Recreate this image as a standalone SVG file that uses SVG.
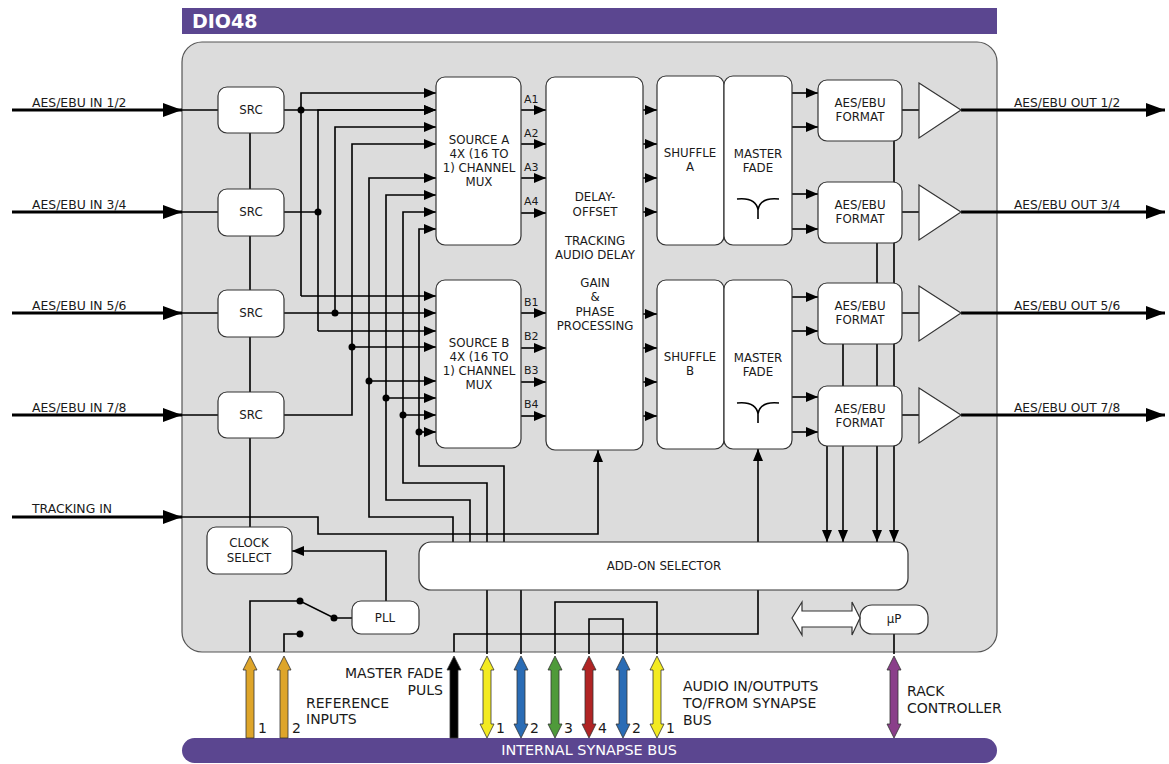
<svg xmlns="http://www.w3.org/2000/svg" xmlns:xlink="http://www.w3.org/1999/xlink" width="1169" height="764" viewBox="0 0 1169 764">
<style>
.box{fill:#fff;stroke:#333;stroke-width:1.2}
.w{fill:none;stroke:#000;stroke-width:1.6}
.wa{fill:none;stroke:#000;stroke-width:1.6;marker-end:url(#ah)}
.th{fill:none;stroke:#000;stroke-width:3;marker-end:url(#big)}
.t{font-family:"DejaVu Sans",Verdana,sans-serif;font-size:11.8px;fill:#1a1a1a}
.m{text-anchor:middle}
.s{font-size:11px}
.l{font-size:14px}
.in{font-size:12.4px}
.out{font-size:12.2px}
.bus{font-size:14.4px;fill:#fff}
.dot{fill:#000}
</style>
<defs>
<marker id="ah" markerUnits="userSpaceOnUse" viewBox="0 0 12 10" markerWidth="12" markerHeight="10" refX="12" refY="5" orient="auto"><path d="M0,0 L12,5 L0,10z" fill="#000"/></marker>
<marker id="big" markerUnits="userSpaceOnUse" viewBox="0 0 19 14" markerWidth="19" markerHeight="14" refX="19" refY="7" orient="auto"><path d="M0,0 L19,7 L0,14z" fill="#000"/></marker>
<path id="da" d="M0,0 L7,14 L4,14 L4,68 L7,68 L0,82 L-7,68 L-4,68 L-4,14 L-7,14 Z" stroke="#333" stroke-width="0.8"/>
<path id="ua" d="M0,0 L7,14 L4,14 L4,82 L-4,82 L-4,14 L-7,14 Z" stroke="#333" stroke-width="0.8"/>
<path id="fade" d="M-21,1 Q-2,-1 0,12 M21,1 Q2,-1 0,12 M0,10 V21" fill="none" stroke="#000" stroke-width="1.6"/>
</defs>

<g id="frame">
<rect x="182" y="8" width="815" height="26" fill="#5b4690"/>
<text x="192" y="28" font-family="DejaVu Sans,Verdana,sans-serif" font-weight="bold" font-size="19" fill="#fff">DIO48</text>
<rect x="182" y="42" width="815" height="610" rx="20" fill="#dcdcdc" stroke="#555" stroke-width="1.2"/>
</g>

<g id="connectors">
<path class="th" d="M12,110 H182"/>
<path class="th" d="M12,212 H182"/>
<path class="th" d="M12,313 H182"/>
<path class="th" d="M12,415 H182"/>
<path class="th" d="M12,517 H182"/>
<path class="w" d="M182,110 H218 M182,212 H218 M182,313 H218 M182,415 H218"/>
<path class="w" d="M250,133 V189 M250,236 V290 M250,337 V392 M250,438 V527"/>
<path class="wa" d="M182,517 H318 V534 H598 V450"/>
<path class="wa" d="M284,110 H436"/>
<path class="w" d="M284,212 H318"/>
<path class="wa" d="M284,313 H436"/>
<path class="wa" d="M301,296 V93 H436"/>
<path class="wa" d="M301,296 H436"/>
<path class="wa" d="M318,331 V110 H436"/>
<path class="wa" d="M318,331 H436"/>
<path class="wa" d="M335,313 V127 H436"/>
<path class="wa" d="M284,415 H352 V144 H436"/>
<path class="wa" d="M352,347 H436"/>
<path class="wa" d="M453,542 V517 H369 V178 H436"/>
<path class="wa" d="M369,381 H436"/>
<path class="wa" d="M470,542 V500 H386 V195 H436"/>
<path class="wa" d="M386,398 H436"/>
<path class="wa" d="M487,542 V483 H403 V212 H436"/>
<path class="wa" d="M403,415 H436"/>
<path class="wa" d="M504,542 V466 H419 V229 H436"/>
<path class="wa" d="M419,432 H436"/>
<circle class="dot" cx="301" cy="110" r="3.5"/>
<circle class="dot" cx="318" cy="212" r="3.5"/>
<circle class="dot" cx="335" cy="313" r="3.5"/>
<circle class="dot" cx="352" cy="347" r="3.5"/>
<circle class="dot" cx="369" cy="381" r="3.5"/>
<circle class="dot" cx="386" cy="398" r="3.5"/>
<circle class="dot" cx="403" cy="415" r="3.5"/>
<circle class="dot" cx="419" cy="432" r="3.5"/>
<path class="wa" d="M521,110 H546"/>
<path class="wa" d="M521,144 H546"/>
<path class="wa" d="M521,178 H546"/>
<path class="wa" d="M521,213 H546"/>
<path class="wa" d="M521,313 H546"/>
<path class="wa" d="M521,348 H546"/>
<path class="wa" d="M521,382 H546"/>
<path class="wa" d="M521,416 H546"/>
<path class="wa" d="M643,110 H657"/>
<path class="wa" d="M643,144 H657"/>
<path class="wa" d="M643,178 H657"/>
<path class="wa" d="M643,212 H657"/>
<path class="wa" d="M643,314 H657"/>
<path class="wa" d="M643,348 H657"/>
<path class="wa" d="M643,382 H657"/>
<path class="wa" d="M643,416 H657"/>
<path class="wa" d="M792,93 H818"/>
<path class="wa" d="M792,127 H818"/>
<path class="wa" d="M792,194 H818"/>
<path class="wa" d="M792,229 H818"/>
<path class="wa" d="M792,297 H818"/>
<path class="wa" d="M792,331 H818"/>
<path class="wa" d="M792,397 H818"/>
<path class="wa" d="M792,432 H818"/>
<path class="wa" d="M894,141 V542"/>
<path class="wa" d="M877,243 V542"/>
<path class="wa" d="M843,344 V542"/>
<path class="wa" d="M827,446 V542"/>
<path class="w" d="M902,110 H919 M902,212 H919 M902,313 H919 M902,415 H919"/>
<path class="th" d="M961,110 H1165"/>
<path class="th" d="M961,212 H1165"/>
<path class="th" d="M961,313 H1165"/>
<path class="th" d="M961,415 H1165"/>
<path class="wa" d="M454,652 V634 H758 V449"/>
<path class="wa" d="M386,601 V551 H292"/>
<path class="w" d="M250,652 V601 H300 L334,618 H352 M300,634 H284 V652"/>
<circle class="dot" cx="300" cy="601" r="3.5"/>
<circle class="dot" cx="334" cy="618" r="3.5"/>
<circle class="dot" cx="300" cy="634" r="3.5"/>
<path class="w" d="M487,590 V654 M521,590 V654 M555,654 V602 H657 V654 M589,654 V619 H623 V654 M894,634 V654"/>
</g>

<g id="src1"><rect class="box" x="218" y="87" width="66" height="46" rx="9"/><text class="t m" x="251" y="114">SRC</text></g>
<g id="src2"><rect class="box" x="218" y="189" width="66" height="47" rx="9"/><text class="t m" x="251" y="216">SRC</text></g>
<g id="src3"><rect class="box" x="218" y="290" width="66" height="47" rx="9"/><text class="t m" x="251" y="317">SRC</text></g>
<g id="src4"><rect class="box" x="218" y="392" width="66" height="46" rx="9"/><text class="t m" x="251" y="419">SRC</text></g>
<g id="clock-select"><rect class="box" x="207" y="527" width="85" height="47" rx="9"/><text class="t m" x="249" y="547">CLOCK</text><text class="t m" x="249" y="562">SELECT</text></g>
<g id="pll"><rect class="box" x="352" y="601" width="67" height="33" rx="9"/><text class="t m" x="385" y="622">PLL</text></g>

<g id="source-a"><rect class="box" x="436" y="77" width="85" height="168" rx="9"/>
<text class="t m" x="479" y="144">SOURCE A</text><text class="t m" x="479" y="158">4X (16 TO</text><text class="t m" x="479" y="172">1) CHANNEL</text><text class="t m" x="479" y="186">MUX</text></g>
<g id="source-b"><rect class="box" x="436" y="280" width="85" height="168" rx="9"/>
<text class="t m" x="479" y="347">SOURCE B</text><text class="t m" x="479" y="361">4X (16 TO</text><text class="t m" x="479" y="375">1) CHANNEL</text><text class="t m" x="479" y="389">MUX</text></g>
<g id="mux-labels">
<text class="t s" x="524" y="103">A1</text><text class="t s" x="524" y="137">A2</text><text class="t s" x="524" y="171">A3</text><text class="t s" x="524" y="205">A4</text>
<text class="t s" x="524" y="306">B1</text><text class="t s" x="524" y="340">B2</text><text class="t s" x="524" y="374">B3</text><text class="t s" x="524" y="408">B4</text>
</g>

<g id="delay"><rect class="box" x="546" y="77" width="97" height="373" rx="9"/>
<text class="t m" x="595" y="201">DELAY-</text><text class="t m" x="595" y="216">OFFSET</text>
<text class="t m" x="595" y="245">TRACKING</text><text class="t m" x="595" y="259">AUDIO DELAY</text>
<text class="t m" x="595" y="287">GAIN</text><text class="t m" x="595" y="301">&amp;</text><text class="t m" x="595" y="316">PHASE</text><text class="t m" x="595" y="330">PROCESSING</text></g>

<g id="shuffle-a"><rect class="box" x="657" y="76" width="67" height="169" rx="9"/><text class="t m" x="690" y="157">SHUFFLE</text><text class="t m" x="690" y="171">A</text></g>
<g id="master-fade-a"><rect class="box" x="724" y="76" width="68" height="169" rx="9"/><text class="t m" x="758" y="158">MASTER</text><text class="t m" x="758" y="172">FADE</text><use href="#fade" x="758" y="198"/></g>
<g id="shuffle-b"><rect class="box" x="657" y="280" width="67" height="169" rx="9"/><text class="t m" x="690" y="361">SHUFFLE</text><text class="t m" x="690" y="375">B</text></g>
<g id="master-fade-b"><rect class="box" x="724" y="280" width="68" height="169" rx="9"/><text class="t m" x="758" y="362">MASTER</text><text class="t m" x="758" y="376">FADE</text><use href="#fade" x="758" y="402"/></g>

<g id="format1"><rect class="box" x="818" y="80" width="84" height="61" rx="9"/><text class="t m" x="860" y="107">AES/EBU</text><text class="t m" x="860" y="121">FORMAT</text></g>
<g id="format2"><rect class="box" x="818" y="182" width="84" height="61" rx="9"/><text class="t m" x="860" y="209">AES/EBU</text><text class="t m" x="860" y="223">FORMAT</text></g>
<g id="format3"><rect class="box" x="818" y="283" width="84" height="61" rx="9"/><text class="t m" x="860" y="310">AES/EBU</text><text class="t m" x="860" y="324">FORMAT</text></g>
<g id="format4"><rect class="box" x="818" y="386" width="84" height="60" rx="9"/><text class="t m" x="860" y="413">AES/EBU</text><text class="t m" x="860" y="427">FORMAT</text></g>

<g id="buffer1"><polygon class="box" points="919,83 961,110 919,138"/></g>
<g id="buffer2"><polygon class="box" points="919,185 961,212 919,240"/></g>
<g id="buffer3"><polygon class="box" points="919,286 961,313 919,341"/></g>
<g id="buffer4"><polygon class="box" points="919,388 961,415 919,443"/></g>

<g id="add-on-selector"><rect class="box" x="419" y="542" width="489" height="48" rx="12"/><text class="t m" x="664" y="570">ADD-ON SELECTOR</text></g>
<g id="up"><rect class="box" x="860" y="605" width="68" height="29" rx="12"/><text class="t m" x="894" y="623">μP</text></g>
<g id="bus-link"><polygon class="box" points="792,618 802,602 802,611 852,611 852,602 860,618 852,635 852,627 802,627 802,635"/></g>

<g id="io-labels">
<text class="t in" x="32" y="107">AES/EBU IN 1/2</text>
<text class="t in" x="32" y="209">AES/EBU IN 3/4</text>
<text class="t in" x="32" y="310">AES/EBU IN 5/6</text>
<text class="t in" x="32" y="412">AES/EBU IN 7/8</text>
<text class="t in" x="32" y="513">TRACKING IN</text>
<text class="t out" x="1014" y="107">AES/EBU OUT 1/2</text>
<text class="t out" x="1014" y="209">AES/EBU OUT 3/4</text>
<text class="t out" x="1014" y="310">AES/EBU OUT 5/6</text>
<text class="t out" x="1014" y="412">AES/EBU OUT 7/8</text>
</g>

<g id="synapse-bus">
<rect x="182" y="738" width="815" height="25" rx="12.5" fill="#5b4690"/>
<text class="t m bus" x="589" y="755">INTERNAL SYNAPSE BUS</text>
</g>

<g id="bus-arrows">
<use href="#ua" x="250" y="656" fill="#dea52a"/>
<use href="#ua" x="284" y="656" fill="#dea52a"/>
<use href="#ua" x="454" y="656" fill="#000"/>
<use href="#da" x="487" y="656" fill="#f3ea20"/>
<use href="#da" x="521" y="656" fill="#2a6cb5"/>
<use href="#da" x="555" y="656" fill="#4f9a3a"/>
<use href="#da" x="589" y="656" fill="#b02424"/>
<use href="#da" x="623" y="656" fill="#2a6cb5"/>
<use href="#da" x="657" y="656" fill="#f3ea20"/>
<use href="#da" x="894" y="656" fill="#8a3f8a"/>
</g>

<g id="bus-labels">
<text class="t l" x="258" y="733">1</text>
<text class="t l" x="292" y="733">2</text>
<text class="t l" x="306" y="708">REFERENCE</text>
<text class="t l" x="306" y="724">INPUTS</text>
<text class="t l" x="443" y="678" text-anchor="end">MASTER FADE</text>
<text class="t l" x="443" y="695" text-anchor="end">PULS</text>
<text class="t l" x="496" y="733">1</text>
<text class="t l" x="530" y="733">2</text>
<text class="t l" x="564" y="733">3</text>
<text class="t l" x="598" y="733">4</text>
<text class="t l" x="632" y="733">2</text>
<text class="t l" x="666" y="733">1</text>
<text class="t l" x="683" y="691">AUDIO IN/OUTPUTS</text>
<text class="t l" x="683" y="708">TO/FROM SYNAPSE</text>
<text class="t l" x="683" y="725">BUS</text>
<text class="t l" x="907" y="696">RACK</text>
<text class="t l" x="907" y="713">CONTROLLER</text>
</g>
</svg>
